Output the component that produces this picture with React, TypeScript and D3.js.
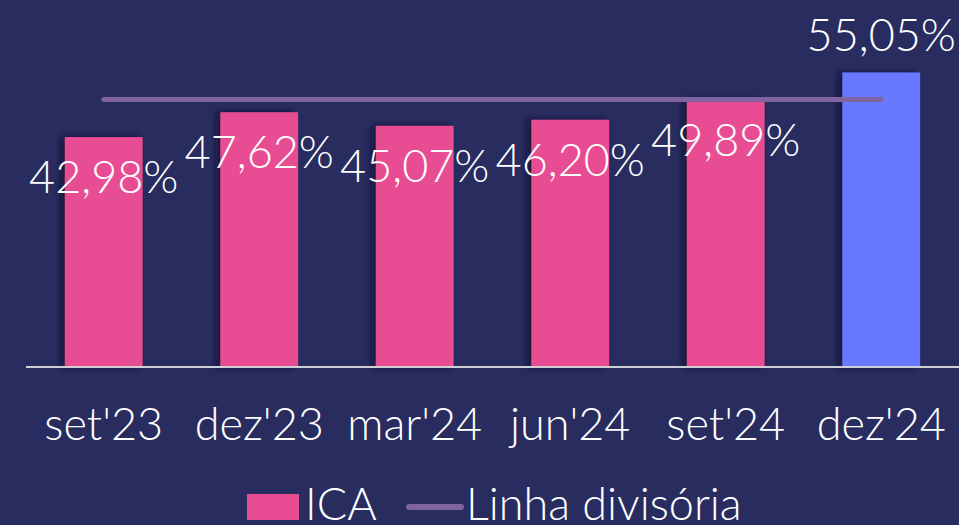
import React from "react";
import * as d3 from "d3";

const categories = ["set'23", "dez'23", "mar'24", "jun'24", "set'24", "dez'24"];
const icaValues = [42.98, 47.62, 45.07, 46.2, 49.89, 55.05];
const dividerValue = 50;
const legendLabels = ["ICA", "Linha divisória"];

const W = 959;
const H = 525;
const BG = "#282c5f";
const PINK = "#e84d93";
const BLUE = "#6878ff";
const LINE = "#8063a1";
const FONT = "Lato, 'Open Sans', sans-serif";

const fmt = (v: number) => v.toFixed(2).replace(".", ",") + "%";

export default function App() {
  const x = d3.scaleBand<string>().domain(categories).range([26, 959]).paddingInner(0.5).paddingOuter(0.25);
  const y = d3.scaleLinear().domain([0, 60]).range([367, 46]);
  const bw = x.bandwidth();
  const first = categories[0];
  const last = categories[categories.length - 1];
  return (
    <svg width={W} height={H} style={{ position: "absolute", left: 0, top: 0, display: "block" }}>
      <defs>
        <filter id="shadow" x="-30%" y="-10%" width="160%" height="120%">
          <feDropShadow dx={-4} dy={0} stdDeviation={3} floodColor="#0d0f2a" floodOpacity={0.8} />
        </filter>
      </defs>
      <rect x={0} y={0} width={W} height={H} fill={BG} />
      {categories.map((c, i) => (
        <rect
          key={c}
          x={x(c)}
          y={y(icaValues[i])}
          width={bw}
          height={y(0) - y(icaValues[i])}
          fill={i === categories.length - 1 ? BLUE : PINK}
          filter="url(#shadow)"
        />
      ))}
      <line x1={26} x2={W} y1={y(0)} y2={y(0)} stroke="#cfcfd6" strokeWidth={2} />
      <line
        x1={(x(first) as number) + bw / 2}
        x2={(x(last) as number) + bw / 2}
        y1={y(dividerValue)}
        y2={y(dividerValue)}
        stroke={LINE}
        strokeWidth={5}
        strokeLinecap="round"
      />
      {categories.map((c, i) => {
        const isLast = i === categories.length - 1;
        const ty = isLast ? y(icaValues[i]) - 21 : y(icaValues[i]) + 56;
        return (
          <text
            key={"l" + c}
            x={(x(c) as number) + bw / 2}
            y={ty}
            textAnchor="middle"
            fill="#ffffff"
            fontFamily={FONT}
            fontWeight={300}
            fontSize={45}
          >
            {fmt(icaValues[i])}
          </text>
        );
      })}
      {categories.map((c) => (
        <text
          key={"c" + c}
          x={(x(c) as number) + bw / 2}
          y={440}
          textAnchor="middle"
          fill="#ffffff"
          fontFamily={FONT}
          fontWeight={300}
          fontSize={45}
        >
          {c}
        </text>
      ))}
      <rect x={247} y={494} width={52} height={26} fill={PINK} />
      <text x={305} y={520} fill="#ffffff" fontFamily={FONT} fontWeight={300} fontSize={45}>
        {legendLabels[0]}
      </text>
      <line x1={409} x2={461} y1={507} y2={507} stroke={LINE} strokeWidth={6} strokeLinecap="round" />
      <text x={466} y={520} fill="#ffffff" fontFamily={FONT} fontWeight={300} fontSize={45}>
        {legendLabels[1]}
      </text>
    </svg>
  );
}
